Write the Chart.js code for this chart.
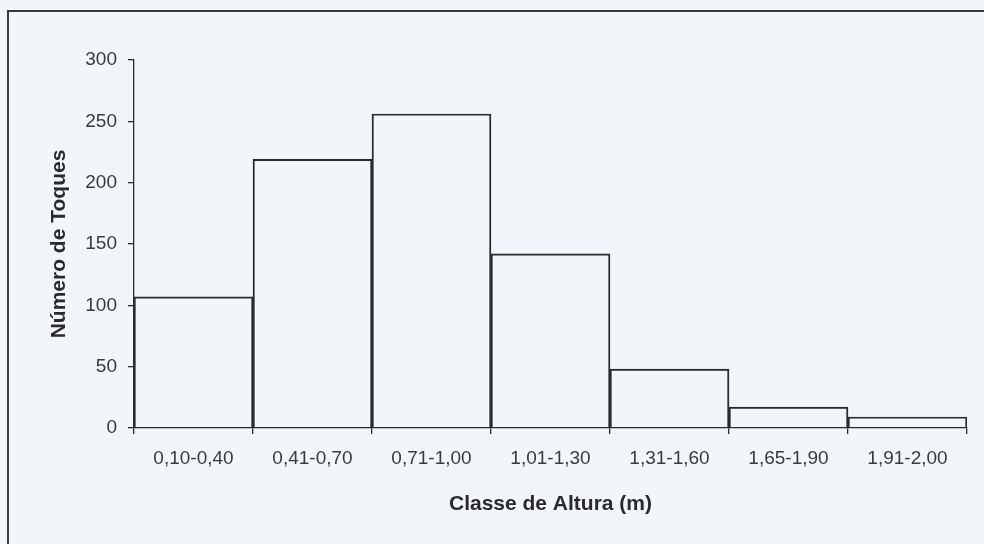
<!DOCTYPE html>
<html>
<head>
<meta charset="utf-8">
<script src="https://cdn.jsdelivr.net/npm/chart.js@4"></script>
<style>
  html, body { margin: 0; padding: 0; background: #f2f6fa; }
  #wrap { width: 984px; height: 544px; position: relative; }
</style>
</head>
<body>
<div id="wrap"><canvas id="histChart"></canvas></div>
<script>
// classes de altura e contagem de toques
const classes = ['0,10-0,40', '0,41-0,70', '0,71-1,00', '1,01-1,30', '1,31-1,60', '1,65-1,90', '1,91-2,00'];
const toques = [107, 219, 256, 142, 48, 17, 9];
const yTicks = [0, 50, 100, 150, 200, 250, 300];

const ink = '#2a2a2a';
const tickFont = { family: 'Arial, "Liberation Sans", sans-serif', size: 19 };
const titleFont = { family: 'Arial, "Liberation Sans", sans-serif', size: 21, weight: 'bold' };

// frame around the figure (only top and left edges show in the scan)
const framePlugin = {
    id: 'frame',
    beforeDraw(chart) {
        const ctx = chart.ctx;
        ctx.save();
        ctx.strokeStyle = '#3a3a3a';
        ctx.lineWidth = 2;
        ctx.beginPath();
        ctx.moveTo(8, 545);
        ctx.lineTo(8, 11);
        ctx.lineTo(984, 11);
        ctx.stroke();
        ctx.restore();
    }
};

new Chart(document.getElementById('histChart'), {
    type: 'bar',
    data: {
        labels: classes,
        datasets: [{
            label: 'Número de Toques',
            data: toques,
            backgroundColor: 'rgba(0,0,0,0)',
            borderColor: ink,
            borderWidth: 1.3,
            borderSkipped: 'start',
            categoryPercentage: 1.0,
            barPercentage: 1.0
        }]
    },
    options: {
        responsive: true,
        maintainAspectRatio: false,
        animation: false,
        layout: { padding: { left: 0, right: 17, top: 60, bottom: 0 } },
        plugins: {
            legend: { display: false },
            tooltip: { enabled: false }
        },
        scales: {
            x: {
                grid: {
                    display: true,
                    offset: true,
                    drawOnChartArea: false,
                    drawTicks: true,
                    tickLength: 6,
                    color: ink,
                    lineWidth: 1.3
                },
                border: { display: true, color: ink, width: 1.3 },
                ticks: {
                    color: '#3a3a3a',
                    font: tickFont,
                    padding: 13,
                    maxRotation: 0,
                    autoSkip: false
                },
                title: {
                    display: true,
                    text: 'Classe de Altura (m)',
                    color: ink,
                    font: titleFont,
                    padding: { top: 10, bottom: 27 }
                },
                afterFit(scale) { scale.height = 116; }
            },
            y: {
                min: 0,
                max: 300,
                afterBuildTicks(scale) { scale.ticks = yTicks.map(v => ({ value: v })); },
                grid: {
                    display: true,
                    drawOnChartArea: false,
                    drawTicks: true,
                    tickLength: 6,
                    color: ink,
                    lineWidth: 1.3
                },
                border: { display: true, color: ink, width: 1.3 },
                ticks: {
                    color: '#3a3a3a',
                    font: tickFont,
                    padding: 11
                },
                title: {
                    display: true,
                    text: 'Número de Toques',
                    color: ink,
                    font: titleFont,
                    padding: { top: 47, bottom: 0 }
                },
                afterFit(scale) { scale.width = 134; }
            }
        }
    },
    plugins: [framePlugin]
});
</script>
</body>
</html>
